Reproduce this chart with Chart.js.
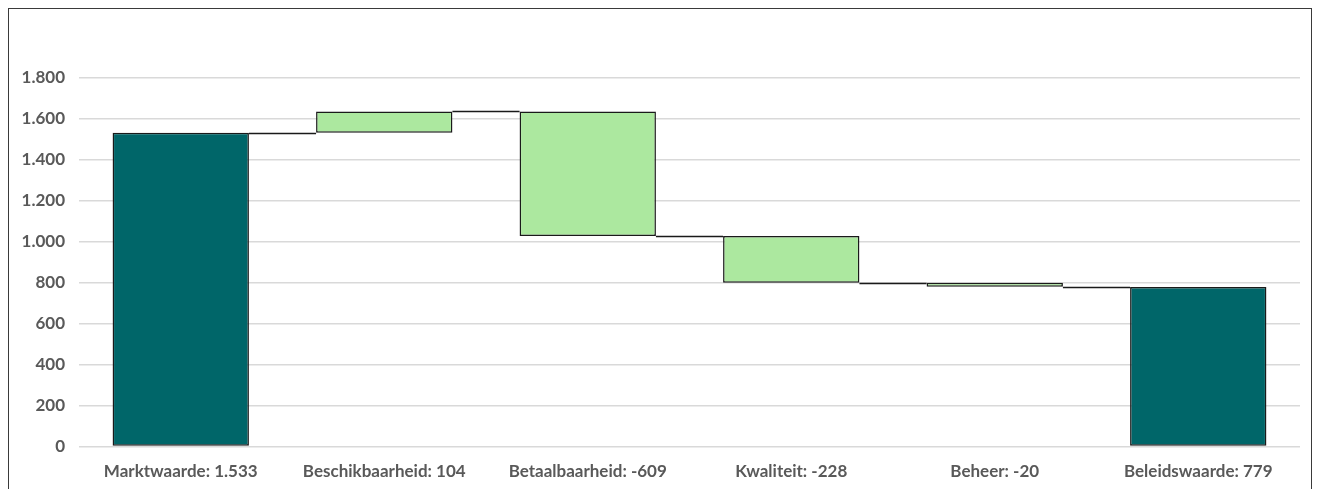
<!DOCTYPE html>
<html>
<head>
<meta charset="utf-8">
<script src="https://cdn.jsdelivr.net/npm/chart.js@4/dist/chart.umd.min.js"></script>
<style>
  html, body { margin: 0; padding: 0; background: #fff; }
  #wrap { position: absolute; left: 0; top: 0; width: 1318px; height: 489px; }
  #frame { position: absolute; left: 8px; top: 8px; width: 1302px; height: 600px; border: 1.5px solid #3a3a3a; pointer-events: none; }
</style>
</head>
<body>
<div id="wrap"><canvas id="chart" width="1318" height="489"></canvas></div>
<div id="frame"></div>
<script>
// data
const categories = ['Marktwaarde: 1.533', 'Beschikbaarheid: 104', 'Betaalbaarheid: -609', 'Kwaliteit: -228', 'Beheer: -20', 'Beleidswaarde: 779'];
const values = [1533, 104, -609, -228, -20, 779];
const isTotal = [true, false, false, false, false, true];
const yTicks = [0, 200, 400, 600, 800, 1000, 1200, 1400, 1600, 1800];

const TEAL = '#006669', GREEN = '#ace89f';

// floating ranges for the waterfall
let run = 0;
const ranges = values.map((v, i) => {
    if (isTotal[i]) { run = v; return [0, v]; }
    const start = run; run += v; return [start, run];
});
const levels = ranges.map(r => r[1]);

const fmt = n => n.toString().replace(/\B(?=(\d{3})+(?!\d))/g, '.');

// connector lines between bars
const connectors = {
    id: 'connectors',
    afterDatasetsDraw(chart) {
        const meta = chart.getDatasetMeta(0), y = chart.scales.y, c = chart.ctx;
        c.save(); c.strokeStyle = '#1a1a1a'; c.lineWidth = 1.5;
        for (let i = 0; i < meta.data.length - 1; i++) {
            const a = meta.data[i], b = meta.data[i + 1];
            const py = Math.round(y.getPixelForValue(levels[i])) + 0.5;
            c.beginPath();
            c.moveTo(a.x + a.width / 2, py);
            c.lineTo(b.x - b.width / 2, py);
            c.stroke();
        }
        c.restore();
    }
};

Chart.defaults.font.family = 'Lato, "Open Sans", sans-serif';
Chart.defaults.font.weight = 'bold';
Chart.defaults.font.size = 17;
Chart.defaults.color = '#595959';

new Chart(document.getElementById('chart'), {
    type: 'bar',
    data: {
        labels: categories,
        datasets: [{
            data: ranges,
            backgroundColor: isTotal.map(t => t ? TEAL : GREEN),
            borderColor: '#1a1a1a',
            borderWidth: 1.5,
            borderSkipped: false,
            categoryPercentage: 0.67,
            barPercentage: 1.0
        }]
    },
    options: {
        responsive: false,
        animation: false,
        layout: { padding: { top: 78, right: 18, bottom: 0, left: 0 } },
        plugins: { legend: { display: false }, tooltip: { enabled: false } },
        scales: {
            x: {
                grid: { display: false },
                border: { display: false },
                ticks: { padding: 7, maxRotation: 0 }
            },
            y: {
                min: 0, max: 1800,
                afterBuildTicks: ax => { ax.ticks = yTicks.map(v => ({ value: v })); },
                afterFit: ax => { ax.width = 79; },
                grid: { color: '#d9d9d9', lineWidth: 1.5, drawTicks: false },
                border: { display: false },
                ticks: { padding: 14, callback: v => fmt(v) }
            }
        }
    },
    plugins: [connectors]
});
</script>
</body>
</html>
